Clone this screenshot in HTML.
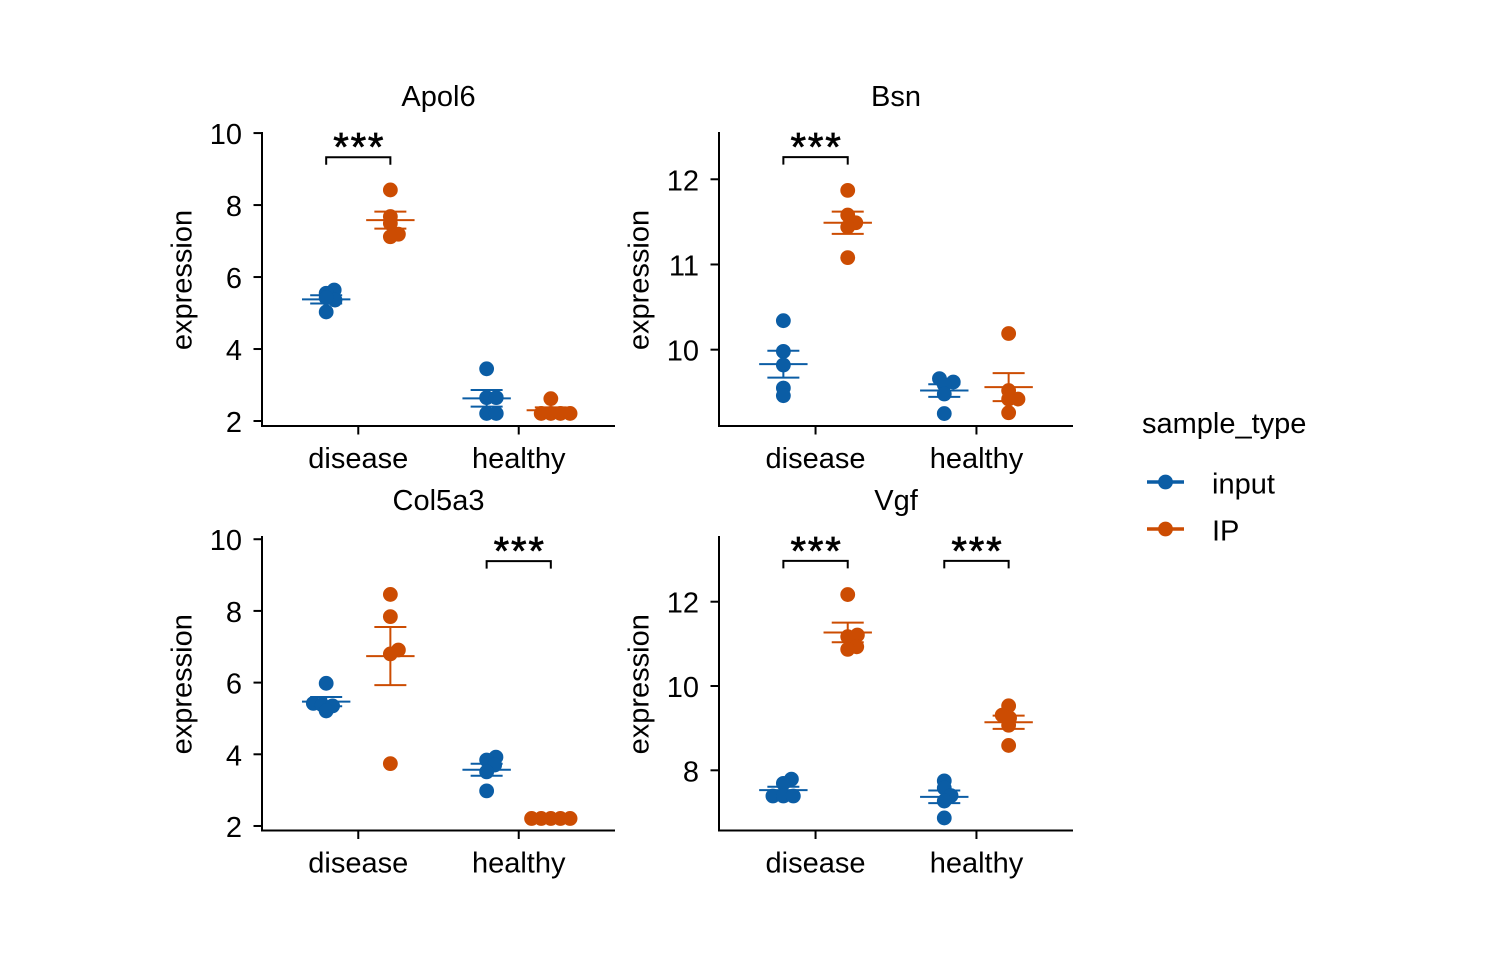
<!DOCTYPE html>
<html lang="en">
<head>
<meta charset="utf-8">
<title>Expression by condition and sample type</title>
<style>
html,body{margin:0;padding:0;background:#fff;}
svg{display:block;}
text{font-family:"Liberation Sans",Arial,sans-serif;fill:#000;}
</style>
</head>
<body>
<svg id="chart" xmlns="http://www.w3.org/2000/svg" width="1500" height="960" viewBox="0 0 1500 960"></svg>
<script>
const categories = ['disease', 'healthy'];
const sampleTypes = ['input', 'IP'];
const panelTitles = ['Apol6', 'Bsn', 'Col5a3', 'Vgf'];

const apol6Ticks = [2, 4, 6, 8, 10];
const bsnTicks = [10, 11, 12];
const col5a3Ticks = [2, 4, 6, 8, 10];
const vgfTicks = [8, 10, 12];

const apol6Domain = [1.861, 10.03];
const bsnDomain = [9.104, 12.555];
const col5a3Domain = [1.874, 10.09];
const vgfDomain = [6.572, 13.559];

// Groups in order: disease-input, disease-IP, healthy-input, healthy-IP
const apol6Values = [[5.03, 5.64, 5.55, 5.36, 5.42], [8.42, 7.68, 7.49, 7.19, 7.12], [3.45, 2.65, 2.65, 2.21, 2.21], [2.62, 2.21, 2.21, 2.21, 2.21]];
const apol6Jitter = [[0, 0.05, 0, 0.055, 0], [0, 0, 0, 0.05, 0], [0, 0, 0.06, 0, 0.06], [0, -0.06, 0, 0.06, 0.12]];
const apol6Means = [5.38, 7.58, 2.63, 2.3];
const apol6Sems = [0.115, 0.236, 0.23, 0.08];

const bsnValues = [[10.34, 9.98, 9.82, 9.55, 9.46], [11.87, 11.58, 11.49, 11.44, 11.08], [9.66, 9.62, 9.59, 9.48, 9.25], [10.19, 9.52, 9.42, 9.42, 9.26]];
const bsnJitter = [[0, 0, 0, 0, 0], [0, 0, 0.05, 0, 0], [-0.03, 0.056, 0, 0, 0], [0, 0, 0.058, 0, 0]];
const bsnMeans = [9.83, 11.49, 9.52, 9.56];
const bsnSems = [0.158, 0.131, 0.074, 0.164];

const col5a3Values = [[5.98, 5.42, 5.38, 5.35, 5.21], [8.46, 7.84, 6.91, 6.8, 3.74], [3.92, 3.84, 3.7, 3.51, 2.98], [2.21, 2.21, 2.21, 2.21, 2.21]];
const col5a3Jitter = [[0, -0.08, -0.025, 0.04, 0], [0, 0, 0.05, 0, 0], [0.058, 0, 0.05, 0, 0], [-0.12, -0.06, 0, 0.06, 0.12]];
const col5a3Means = [5.47, 6.74, 3.57, 2.21];
const col5a3Sems = [0.13, 0.81, 0.167, 0];

const vgfValues = [[7.79, 7.69, 7.39, 7.39, 7.39], [12.17, 11.21, 11.17, 10.93, 10.87], [7.75, 7.58, 7.4, 7.27, 6.87], [9.53, 9.31, 9.24, 9.07, 8.59]];
const vgfJitter = [[0.05, 0, -0.065, 0, 0.062], [0, 0.06, 0, 0.056, 0], [0, 0, 0.042, 0, 0], [0, -0.04, 0.006, 0, 0]];
const vgfMeans = [7.53, 11.27, 7.37, 9.14];
const vgfSems = [0.08, 0.233, 0.15, 0.158];

// Categories with a significance bracket, and its height in data units
const apol6Significant = ['disease'];
const bsnSignificant = ['disease'];
const col5a3Significant = ['healthy'];
const vgfSignificant = ['disease', 'healthy'];
const apol6BracketLevel = 9.33;
const bsnBracketLevel = 12.26;
const col5a3BracketLevel = 9.39;
const vgfBracketLevel = 12.97;

const SVG_NS = 'http://www.w3.org/2000/svg';
const svg = document.getElementById('chart');
const COLORS = ['#0B5DA5', '#CC4C02'];
const FONT = 29;
const LW = 2;

function node(parent, tag, attrs, txt) {
  const el = document.createElementNS(SVG_NS, tag);
  for (const k in attrs) el.setAttribute(k, attrs[k]);
  if (txt !== undefined) el.textContent = txt;
  parent.appendChild(el);
  return el;
}

const layouts = [
  { left: 262, top: 132, w: 353, h: 294, ticks: apol6Ticks, domain: apol6Domain, values: apol6Values, jitter: apol6Jitter, means: apol6Means, sems: apol6Sems, sig: apol6Significant, level: apol6BracketLevel },
  { left: 719, top: 132, w: 354, h: 294, ticks: bsnTicks, domain: bsnDomain, values: bsnValues, jitter: bsnJitter, means: bsnMeans, sems: bsnSems, sig: bsnSignificant, level: bsnBracketLevel },
  { left: 262, top: 536, w: 353, h: 294.5, ticks: col5a3Ticks, domain: col5a3Domain, values: col5a3Values, jitter: col5a3Jitter, means: col5a3Means, sems: col5a3Sems, sig: col5a3Significant, level: col5a3BracketLevel },
  { left: 719, top: 536, w: 354, h: 294.5, ticks: vgfTicks, domain: vgfDomain, values: vgfValues, jitter: vgfJitter, means: vgfMeans, sems: vgfSems, sig: vgfSignificant, level: vgfBracketLevel }
];

layouts.forEach(function (p, pi) {
  const title = panelTitles[pi];
  const slug = title.toLowerCase();
  const bottom = p.top + p.h;
  const right = p.left + p.w;
  const xScale = function (u) { return p.left + (u - 0.4) * p.w / 2.2; };
  const yScale = function (v) { return bottom - (v - p.domain[0]) / (p.domain[1] - p.domain[0]) * p.h; };

  const g = node(svg, 'g', {});
  
  

  const titleEl = node(g, 'text', { x: p.left + p.w / 2, y: p.top - 26, 'text-anchor': 'middle', 'font-size': FONT }, title);
  
  

  const yTitle = node(g, 'text', { transform: 'translate(' + (p.left - 70.5) + ',' + (p.top + p.h / 2 + 1) + ') rotate(-90)', 'text-anchor': 'middle', 'font-size': FONT }, 'expression');
  
  

  const yAxis = node(g, 'line', { x1: p.left, x2: p.left, y1: p.top, y2: bottom + LW / 2, stroke: '#000', 'stroke-width': LW });
  
  

  const xAxis = node(g, 'line', { x1: p.left, x2: right, y1: bottom, y2: bottom, stroke: '#000', 'stroke-width': LW });
  
  

  p.ticks.forEach(function (t) {
    const y = yScale(t);
    const tick = node(g, 'line', { x1: p.left - 8.5, x2: p.left, y1: y, y2: y, stroke: '#000', 'stroke-width': LW });
    
    
    const lab = node(g, 'text', { x: p.left - 20, y: y + 11, 'text-anchor': 'end', 'font-size': FONT }, String(t));
    
    
  });

  categories.forEach(function (c, ci) {
    const x = xScale(ci + 1);
    const tick = node(g, 'line', { x1: x, x2: x, y1: bottom, y2: bottom + 8.5, stroke: '#000', 'stroke-width': LW });
    
    
    const lab = node(g, 'text', { x: x, y: bottom + 42, 'text-anchor': 'middle', 'font-size': FONT }, c);
    
    
  });

  p.values.forEach(function (vals, gi) {
    const ci = Math.floor(gi / 2);
    const si = gi % 2;
    const color = COLORS[si];
    const cx = xScale(ci + 1 + (si === 0 ? -0.2 : 0.2));
    const m = p.means[gi];
    const s = p.sems[gi];
    const tag = slug + '-' + categories[ci] + '-' + sampleTypes[si];

    const eb = node(g, 'g', { stroke: color, 'stroke-width': LW, fill: 'none' });
    
    
    node(eb, 'line', { x1: cx, x2: cx, y1: yScale(m - s), y2: yScale(m + s) });
    node(eb, 'line', { x1: cx - 16, x2: cx + 16, y1: yScale(m + s), y2: yScale(m + s) });
    node(eb, 'line', { x1: cx - 16, x2: cx + 16, y1: yScale(m - s), y2: yScale(m - s) });
    const meanLine = node(eb, 'line', { x1: cx - 24.2, x2: cx + 24.2, y1: yScale(m), y2: yScale(m) });
    
    

    vals.forEach(function (v, vi) {
      const dot = node(g, 'circle', { cx: cx + p.jitter[gi][vi] * p.w / 2.2, cy: yScale(v), r: 7.4, fill: color });
      
      
    });
  });

  p.sig.forEach(function (c) {
    const ci = categories.indexOf(c);
    const x1 = xScale(ci + 0.8);
    const x2 = xScale(ci + 1.2);
    const y = yScale(p.level);
    const br = node(g, 'path', { d: 'M' + x1 + ' ' + (y + 7.5) + 'V' + y + 'H' + x2 + 'V' + (y + 7.5), fill: 'none', stroke: '#000', 'stroke-width': LW });
    
    
    const st = node(g, 'text', { x: (x1 + x2) / 2 + 1, y: y + 3.5, 'text-anchor': 'middle', 'font-size': 40, 'letter-spacing': 1.8, stroke: '#000', 'stroke-width': 0.7 }, '***');
    
    
  });
});

const legend = node(svg, 'g', {});



const legendTitle = node(legend, 'text', { x: 1142, y: 433, 'font-size': FONT }, 'sample_type');



sampleTypes.forEach(function (t, i) {
  const y = 482 + i * 47;
  const entry = node(legend, 'g', {});
  
  
  node(entry, 'line', { x1: 1147, x2: 1184, y1: y, y2: y, stroke: COLORS[i], 'stroke-width': 3.4 });
  node(entry, 'circle', { cx: 1165.5, cy: y, r: 7.4, fill: COLORS[i] });
  const lab = node(entry, 'text', { x: 1212, y: y + 11.5, 'font-size': FONT }, t);
  
  
});
</script>
</body>
</html>
